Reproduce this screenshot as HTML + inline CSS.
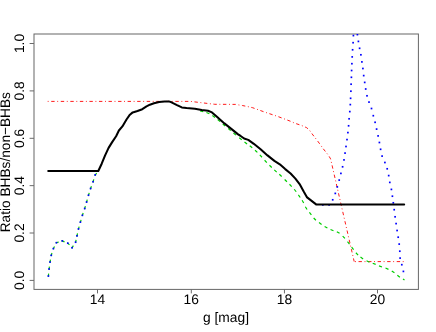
<!DOCTYPE html>
<html><head><meta charset="utf-8"><title>plot</title>
<style>
html,body{margin:0;padding:0;background:#fff;}
body{width:436px;height:332px;overflow:hidden;}
svg{display:block;will-change:transform;}
text{font-family:"Liberation Sans",sans-serif;font-size:13.8px;fill:#000;text-rendering:geometricPrecision;}
</style></head><body>
<svg width="436" height="332" viewBox="0 0 436 332">
<rect x="0" y="0" width="436" height="332" fill="#fff"/>
<rect x="34" y="34" width="384.4" height="255.4" fill="none" stroke="#666" stroke-width="1"/>
<defs><clipPath id="c"><rect x="34" y="34" width="384.4" height="255.4"/></clipPath></defs>
<g clip-path="url(#c)" fill="none" stroke-linejoin="round">
<path d="M47.70,101.40 L190.60,101.40 L203.80,103.00 L214.80,104.30 L235.40,104.40 L242.30,105.50 L247.80,106.60 L252.60,107.70 L265.30,112.30 L277.90,116.50 L290.60,121.30 L295.00,123.30 L301.20,125.30 L306.70,127.70 L309.40,130.10 L312.20,134.00 L317.70,141.10 L323.20,148.70 L328.60,155.50 L330.60,158.90 L354.20,261.60" stroke="#ff0000" stroke-width="0.9" stroke-dasharray="0.9 2.62 3.4 2.63"/>
<path d="M355.00,261.60 L404.16,261.60" stroke="#ff0000" stroke-width="0.9" stroke-dasharray="0.9 2.62 3.4 2.63"/>
<path d="M48.32,276.80 L48.64,273.61 M48.99,269.79 L49.42,266.62 M49.91,262.79 L50.47,259.64 M51.01,256.06 L51.98,253.01 M53.03,249.31 L54.50,246.47 M55.69,242.94 L58.74,241.99 M61.56,240.59 L64.51,241.83 M67.25,242.62 L69.46,244.94 M71.67,248.37 L73.39,245.68 M75.43,242.98 L76.11,239.86 M76.83,236.58 L77.51,233.45 M78.28,229.67 L79.15,226.59 M80.17,222.87 L81.08,219.80 M82.14,216.06 L83.17,213.03 M84.48,209.27 L85.37,206.20 M86.38,202.77 L87.25,199.69 M88.26,195.96 L89.22,192.91 M90.32,189.25 L91.43,186.25 M92.86,182.46 L93.81,179.41 M94.70,175.53 L96.69,173.02 M200.15,110.91 L203.25,111.69 M206.43,112.46 L209.37,113.74 M212.38,115.60 L215.02,117.40 M217.67,119.58 L220.13,121.62 M222.78,123.96 L225.22,126.04 M228.28,128.56 L230.72,130.64 M233.47,133.07 L235.93,135.13 M239.25,137.80 L241.75,139.80 M244.53,142.03 L247.07,143.97 M249.75,145.80 L252.25,147.80 M255.03,150.20 L257.37,152.40 M259.80,154.93 L262.00,157.27 M264.60,160.24 L266.80,162.56 M269.46,165.28 L271.74,167.52 M274.32,169.92 L276.68,172.08 M279.33,174.31 L281.67,176.49 M284.66,179.47 L286.94,181.73 M289.50,184.24 L291.70,186.56 M294.20,189.25 L296.20,191.75 M298.39,194.89 L300.21,197.51 M302.10,200.22 L303.70,202.98 M305.35,206.74 L307.05,209.46 M309.41,212.34 L311.39,214.86 M313.67,217.97 L315.93,220.23 M319.01,222.55 L321.59,224.45 M324.61,226.51 L327.39,228.09 M330.53,229.47 L333.47,230.73 M336.83,231.67 L339.57,233.33 M342.67,236.16 L344.93,238.44 M347.51,241.65 L349.49,244.15 M351.62,247.13 L353.58,249.67 M355.89,252.74 L358.11,255.06 M360.48,257.09 L363.12,258.91 M366.55,260.82 L369.45,262.18 M372.71,263.22 L375.69,264.38 M379.01,265.83 L381.99,266.97 M385.53,268.06 L388.47,269.34 M391.76,271.02 L394.44,272.78 M397.35,275.30 L399.85,277.30 M403.0,279.0 L404.5,279.95" stroke="#00cd00" stroke-width="1.2"/>
<g fill="#0000ff" stroke="none">
<rect x="47.55" y="275.15" width="1.7" height="1.7"/>
<rect x="48.25" y="268.15" width="1.7" height="1.7"/>
<rect x="49.20" y="261.15" width="1.7" height="1.7"/>
<rect x="50.40" y="254.45" width="1.7" height="1.7"/>
<rect x="52.55" y="247.75" width="1.7" height="1.7"/>
<rect x="55.60" y="241.85" width="1.7" height="1.7"/>
<rect x="61.45" y="240.05" width="1.7" height="1.7"/>
<rect x="66.95" y="242.35" width="1.7" height="1.7"/>
<rect x="71.25" y="246.85" width="1.7" height="1.7"/>
<rect x="74.75" y="241.35" width="1.7" height="1.7"/>
<rect x="76.15" y="234.95" width="1.7" height="1.7"/>
<rect x="77.65" y="228.05" width="1.7" height="1.7"/>
<rect x="79.55" y="221.25" width="1.7" height="1.7"/>
<rect x="81.55" y="214.45" width="1.7" height="1.7"/>
<rect x="83.85" y="207.65" width="1.7" height="1.7"/>
<rect x="85.75" y="201.15" width="1.7" height="1.7"/>
<rect x="87.65" y="194.35" width="1.7" height="1.7"/>
<rect x="89.75" y="187.65" width="1.7" height="1.7"/>
<rect x="92.25" y="180.85" width="1.7" height="1.7"/>
<rect x="94.35" y="174.05" width="1.7" height="1.7"/>
<rect x="321.95" y="204.05" width="1.7" height="1.7"/>
<rect x="328.25" y="204.05" width="1.7" height="1.7"/>
<rect x="331.85" y="198.95" width="1.7" height="1.7"/>
<rect x="334.45" y="192.55" width="1.7" height="1.7"/>
<rect x="336.45" y="186.05" width="1.7" height="1.7"/>
<rect x="338.35" y="179.25" width="1.7" height="1.7"/>
<rect x="340.05" y="172.55" width="1.7" height="1.7"/>
<rect x="341.75" y="165.95" width="1.7" height="1.7"/>
<rect x="343.15" y="159.05" width="1.7" height="1.7"/>
<rect x="344.20" y="152.25" width="1.7" height="1.7"/>
<rect x="345.15" y="145.65" width="1.7" height="1.7"/>
<rect x="346.15" y="138.75" width="1.7" height="1.7"/>
<rect x="347.05" y="131.75" width="1.7" height="1.7"/>
<rect x="347.75" y="124.95" width="1.7" height="1.7"/>
<rect x="348.25" y="117.95" width="1.7" height="1.7"/>
<rect x="348.95" y="110.75" width="1.7" height="1.7"/>
<rect x="349.45" y="103.75" width="1.7" height="1.7"/>
<rect x="349.75" y="97.45" width="1.7" height="1.7"/>
<rect x="350.05" y="90.35" width="1.7" height="1.7"/>
<rect x="350.25" y="83.35" width="1.7" height="1.7"/>
<rect x="350.55" y="76.45" width="1.7" height="1.7"/>
<rect x="350.75" y="69.65" width="1.7" height="1.7"/>
<rect x="351.05" y="62.85" width="1.7" height="1.7"/>
<rect x="351.35" y="56.05" width="1.7" height="1.7"/>
<rect x="351.75" y="48.95" width="1.7" height="1.7"/>
<rect x="352.25" y="41.85" width="1.7" height="1.7"/>
<rect x="352.55" y="34.75" width="1.7" height="1.7"/>
<rect x="356.55" y="33.75" width="1.7" height="1.7"/>
<rect x="357.55" y="40.55" width="1.7" height="1.7"/>
<rect x="358.75" y="47.45" width="1.7" height="1.7"/>
<rect x="360.05" y="53.95" width="1.7" height="1.7"/>
<rect x="361.05" y="61.05" width="1.7" height="1.7"/>
<rect x="362.05" y="67.65" width="1.7" height="1.7"/>
<rect x="362.85" y="74.75" width="1.7" height="1.7"/>
<rect x="363.85" y="81.55" width="1.7" height="1.7"/>
<rect x="364.85" y="88.15" width="1.7" height="1.7"/>
<rect x="366.15" y="94.95" width="1.7" height="1.7"/>
<rect x="368.15" y="101.25" width="1.7" height="1.7"/>
<rect x="370.65" y="107.65" width="1.7" height="1.7"/>
<rect x="372.45" y="114.85" width="1.7" height="1.7"/>
<rect x="374.25" y="121.45" width="1.7" height="1.7"/>
<rect x="375.75" y="128.25" width="1.7" height="1.7"/>
<rect x="377.25" y="135.05" width="1.7" height="1.7"/>
<rect x="378.55" y="141.65" width="1.7" height="1.7"/>
<rect x="379.75" y="148.45" width="1.7" height="1.7"/>
<rect x="381.25" y="155.25" width="1.7" height="1.7"/>
<rect x="384.05" y="161.65" width="1.7" height="1.7"/>
<rect x="386.35" y="167.95" width="1.7" height="1.7"/>
<rect x="387.85" y="174.75" width="1.7" height="1.7"/>
<rect x="388.95" y="181.55" width="1.7" height="1.7"/>
<rect x="390.55" y="188.55" width="1.7" height="1.7"/>
<rect x="391.55" y="195.35" width="1.7" height="1.7"/>
<rect x="392.45" y="201.95" width="1.7" height="1.7"/>
<rect x="393.35" y="208.85" width="1.7" height="1.7"/>
<rect x="394.25" y="215.95" width="1.7" height="1.7"/>
<rect x="395.25" y="222.75" width="1.7" height="1.7"/>
<rect x="396.25" y="229.65" width="1.7" height="1.7"/>
<rect x="397.35" y="236.35" width="1.7" height="1.7"/>
<rect x="398.35" y="243.25" width="1.7" height="1.7"/>
<rect x="398.95" y="250.35" width="1.7" height="1.7"/>
<rect x="399.25" y="257.25" width="1.7" height="1.7"/>
<rect x="400.95" y="263.85" width="1.7" height="1.7"/>
<rect x="402.55" y="270.55" width="1.7" height="1.7"/>
</g>
<path d="M48.24,171.00 L98.30,171.00 L101.70,163.70 L105.10,155.40 L108.60,147.90 L112.00,142.40 L116.10,136.20 L118.90,130.50 L122.40,126.40 L126.50,119.50 L129.90,114.70 L132.70,112.40 L137.50,111.00 L142.30,109.20 L146.50,106.40 L149.90,104.70 L154.00,103.30 L159.10,102.00 L164.60,101.60 L168.80,101.40 L171.50,102.30 L177.00,105.10 L181.80,107.40 L186.60,108.10 L194.90,108.80 L201.80,109.90 L208.00,110.70 L212.00,112.40 L217.50,117.20 L224.40,123.40 L231.30,128.90 L238.10,134.40 L240.00,135.50 L244.10,138.50 L248.30,139.90 L253.80,143.80 L260.60,149.30 L267.50,155.40 L274.40,160.90 L279.80,164.30 L285.20,169.10 L290.60,173.50 L295.40,178.60 L299.60,184.10 L303.70,191.60 L307.10,197.40 L316.10,204.40 L404.16,204.45" stroke="#000" stroke-width="2.05" stroke-linecap="round"/>
</g>
<g stroke="#6a6a6a" stroke-width="1">
<line x1="97.5" y1="289.4" x2="97.5" y2="293.4"/>
<line x1="191.3" y1="289.4" x2="191.3" y2="293.4"/>
<line x1="284.45" y1="289.4" x2="284.45" y2="293.4"/>
<line x1="377.5" y1="289.4" x2="377.5" y2="293.4"/>
<line x1="29.6" y1="43.5" x2="34" y2="43.5"/>
<line x1="29.6" y1="90.9" x2="34" y2="90.9"/>
<line x1="29.6" y1="138.3" x2="34" y2="138.3"/>
<line x1="29.6" y1="185.65" x2="34" y2="185.65"/>
<line x1="29.6" y1="233.0" x2="34" y2="233.0"/>
<line x1="29.6" y1="280.4" x2="34" y2="280.4"/>
</g>
<text x="97.5" y="304.4" text-anchor="middle">14</text>
<text x="191.3" y="304.4" text-anchor="middle">16</text>
<text x="284.45" y="304.4" text-anchor="middle">18</text>
<text x="377.5" y="304.4" text-anchor="middle">20</text>
<text transform="translate(24.1,43.5) rotate(-90)" text-anchor="middle">1.0</text>
<text transform="translate(24.1,90.9) rotate(-90)" text-anchor="middle">0.8</text>
<text transform="translate(24.1,138.3) rotate(-90)" text-anchor="middle">0.6</text>
<text transform="translate(24.1,185.65) rotate(-90)" text-anchor="middle">0.4</text>
<text transform="translate(24.1,233.0) rotate(-90)" text-anchor="middle">0.2</text>
<text transform="translate(24.1,280.4) rotate(-90)" text-anchor="middle">0.0</text>
<text x="226.05" y="322" text-anchor="middle">g [mag]</text>
<text transform="translate(9.8,162.15) rotate(-90) scale(0.991,1)" text-anchor="middle">Ratio BHBs/non−BHBs</text>
</svg></body></html>
